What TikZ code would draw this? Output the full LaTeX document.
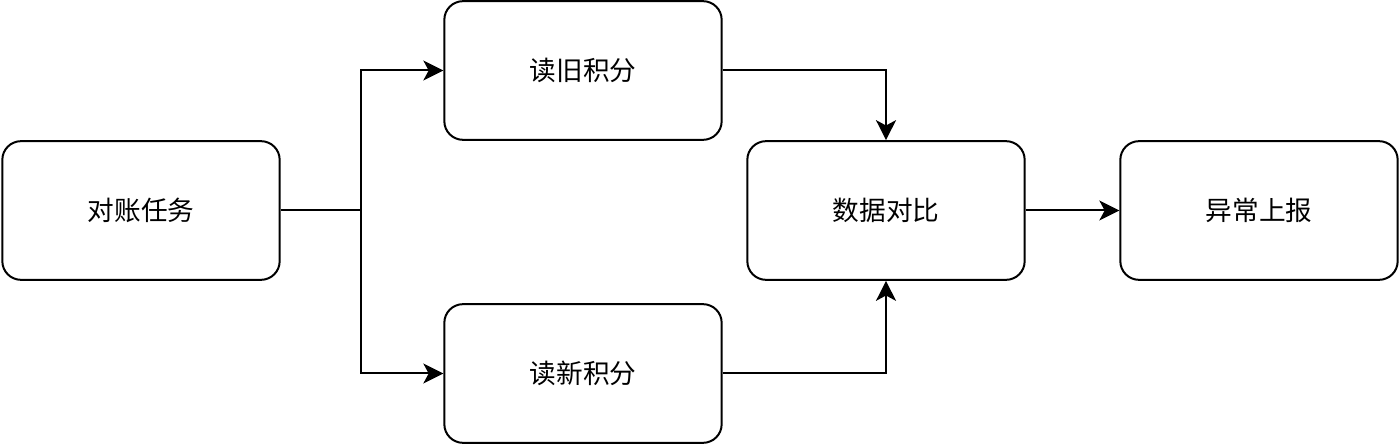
\documentclass[tikz,border=0pt]{standalone}
\usepackage{fontspec}
\setmainfont{Noto Sans CJK SC}
\usepackage{tikz}
\usetikzlibrary{arrows.meta,positioning}

\begin{document}
\begin{tikzpicture}[x=0.75pt, y=-0.75pt, every node/.style={font=\fontsize{20pt}{24pt}\selectfont},
  box/.style={draw, line width=1.5pt, rounded corners=14pt, align=center, minimum width=208pt, minimum height=104pt, inner sep=0pt},
  arr/.style={-{Stealth[length=15pt, width=15pt, inset=4pt]}, line width=1.5pt}]
\useasboundingbox (0,0) rectangle (1400,445);
\node[box] (task) at (141,210.5) {对账任务};
\node[box] (old) at (583,70.5) {读旧积分};
\node[box] (new) at (583,373.5) {读新积分};
\node[box] (cmp) at (886,210.5) {数据对比};
\node[box] (report) at (1259,210.5) {异常上报};
\coordinate (split) at (361,210.5);
\draw[line width=1.5pt] (task) -- (split);
\draw[arr] (split) |- (old);
\draw[arr] (split) |- (new);
\draw[arr] (old) -| (cmp);
\draw[arr] (new) -| (cmp);
\draw[arr] (cmp) -- (report);
\end{tikzpicture}
\end{document}
